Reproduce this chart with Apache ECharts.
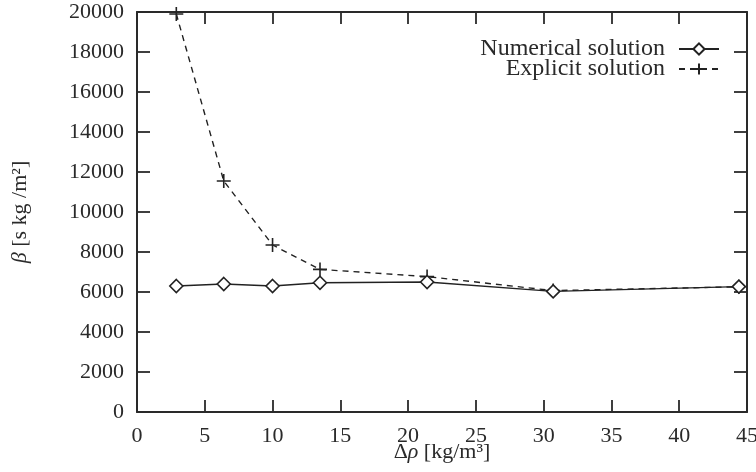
<!DOCTYPE html>
<html><head><meta charset="utf-8">
<script src="https://cdn.jsdelivr.net/npm/echarts@6/dist/echarts.min.js"></script>
<style>html,body{margin:0;padding:0;background:#fff}#c{width:756px;height:472px}</style>
</head><body><div id="c"></div>
<script>
const deltaRho = [2.9, 6.4, 10.0, 13.5, 21.4, 30.7, 44.4];
const numerical = [6300, 6400, 6300, 6460, 6500, 6030, 6270];
const explicit = [19900, 11550, 8350, 7130, 6770, 6070, 6260];
const seriesNames = ['Numerical solution', 'Explicit solution'];
const xRange = [0, 45, 5];
const yRange = [0, 20000, 2000];

const FONT = 'Liberation Serif';
const INK = '#222';
const AX = '#2a2a2a';
const plusPath = 'path://M0,6L12,6M6,0L6,12';

const chart = echarts.init(document.getElementById('c'), null, {renderer: 'canvas'});

function xAxisDef(pos, showLabel) {
  return {
    type: 'value', position: pos, min: xRange[0], max: xRange[1], interval: xRange[2],
    axisLine: {show: true, onZero: false, lineStyle: {color: AX, width: 2}},
    axisTick: {show: true, inside: true, length: 12, lineStyle: {color: AX, width: 1.8}},
    axisLabel: {show: showLabel, margin: 13, color: AX, fontFamily: FONT, fontSize: 22,
      formatter: v => String(v)},
    splitLine: {show: false}
  };
}
function yAxisDef(pos, showLabel) {
  return {
    type: 'value', position: pos, min: yRange[0], max: yRange[1], interval: yRange[2],
    axisLine: {show: true, onZero: false, lineStyle: {color: AX, width: 2}},
    axisTick: {show: true, inside: true, length: 13, lineStyle: {color: AX, width: 1.8}},
    axisLabel: {show: showLabel, margin: 13, color: AX, fontFamily: FONT, fontSize: 22,
      formatter: v => String(v)},
    splitLine: {show: false}
  };
}

const xBottom = xAxisDef('bottom', true);
xBottom.name = '{n|Δ}{i|ρ}{n| [kg/m³]}';
xBottom.nameLocation = 'middle';
xBottom.nameGap = 29;
xBottom.nameMoveOverlap = false;
xBottom.nameTextStyle = {color: AX, fontFamily: FONT, fontSize: 22,
  rich: {n: {fontFamily: FONT, fontSize: 22, color: AX}, i: {fontFamily: FONT, fontSize: 22, fontStyle: 'italic', color: AX}}};

const yLeft = yAxisDef('left', true);
yLeft.name = '{i|β}{n| [s kg /m²]}';
yLeft.nameLocation = 'middle';
yLeft.nameGap = 106;
yLeft.nameRotate = 90;
yLeft.nameMoveOverlap = false;
yLeft.nameTextStyle = {color: AX, fontFamily: FONT, fontSize: 22,
  rich: {n: {fontFamily: FONT, fontSize: 22, color: AX}, i: {fontFamily: FONT, fontSize: 22, fontStyle: 'italic', color: AX}}};

chart.setOption({
  animation: false,
  backgroundColor: '#fff',
  grid: {left: 137, right: 9, top: 12, bottom: 60, containLabel: false, outerBoundsMode: 'none'},
  xAxis: [xBottom, xAxisDef('top', false)],
  yAxis: [yLeft, yAxisDef('right', false)],
  legend: {
    orient: 'vertical', right: 36, top: 37, align: 'right', padding: 0,
    itemWidth: 40, itemHeight: 14, itemGap: -4,
    textStyle: {fontFamily: FONT, fontSize: 24, color: AX, padding: [0, 9, 0, 0]},
    data: seriesNames
  },
  series: [
    {
      name: seriesNames[0], type: 'line',
      data: deltaRho.map((x, i) => [x, numerical[i]]),
      symbol: 'diamond', symbolSize: 13, showAllSymbol: true,
      lineStyle: {color: INK, width: 1.4, type: 'solid'},
      itemStyle: {color: '#fff', borderColor: INK, borderWidth: 1.6},
      z: 3
    },
    {
      name: seriesNames[1], type: 'line',
      data: deltaRho.map((x, i) => [x, explicit[i]]),
      symbol: plusPath, symbolSize: 14, showAllSymbol: true,
      lineStyle: {color: INK, width: 1.4, type: [6, 5]},
      itemStyle: {color: 'none', borderColor: INK, borderWidth: 1.6},
      z: 2
    }
  ]
});
</script></body></html>
